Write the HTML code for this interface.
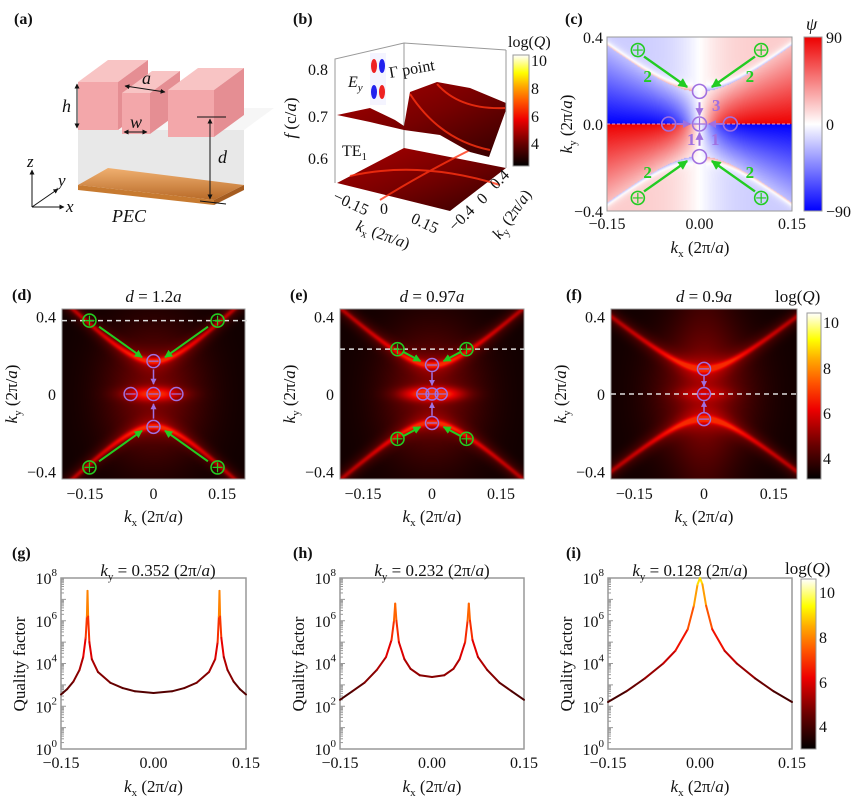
<!DOCTYPE html>
<html><head><meta charset="utf-8">
<style>
body{margin:0;width:865px;height:803px;background:#fff;position:relative;overflow:hidden;font-family:"Liberation Serif",serif}
canvas{position:absolute}
svg{position:absolute;left:0;top:0}
text{font-family:"Liberation Serif",serif;fill:#111}
.pl{font-weight:bold;font-size:16px}
.tk{font-size:16px}
.it{font-style:italic}
</style></head>
<body>
<canvas id="cc" width="185" height="174" style="left:607px;top:37px"></canvas>
<canvas id="cd" width="183" height="170" style="left:62px;top:309px"></canvas>
<canvas id="ce" width="184" height="170" style="left:340px;top:309px"></canvas>
<canvas id="cf" width="186" height="170" style="left:611px;top:309px"></canvas>
<svg id="s" width="865" height="803" xmlns="http://www.w3.org/2000/svg">
<defs>
<linearGradient id="hot" x1="0" y1="1" x2="0" y2="0">
<stop offset="0" stop-color="#000"/><stop offset="0.2" stop-color="#600"/><stop offset="0.42" stop-color="#e00"/><stop offset="0.58" stop-color="#f50"/><stop offset="0.72" stop-color="#fa0"/><stop offset="0.84" stop-color="#ff0"/><stop offset="1" stop-color="#fff"/>
</linearGradient>
<linearGradient id="rwb" x1="0" y1="0" x2="0" y2="1">
<stop offset="0" stop-color="#e00"/><stop offset="0.5" stop-color="#fff"/><stop offset="1" stop-color="#00f"/>
</linearGradient>
<linearGradient id="surf" x1="0" y1="0" x2="1" y2="1">
<stop offset="0" stop-color="#a00"/><stop offset="0.5" stop-color="#700"/><stop offset="1" stop-color="#300"/>
</linearGradient>
<linearGradient id="pec" x1="0" y1="0" x2="0" y2="1">
<stop offset="0" stop-color="#f0b070"/><stop offset="1" stop-color="#b86a28"/>
</linearGradient>
<marker id="ab" viewBox="0 0 10 10" refX="9" refY="5" markerWidth="5" markerHeight="5" orient="auto-start-reverse"><path d="M0,0L10,5L0,10z" fill="#111"/></marker>
<marker id="ag" viewBox="0 0 10 10" refX="9" refY="5" markerWidth="4" markerHeight="4" orient="auto"><path d="M0,0L10,5L0,10z" fill="#2c2"/></marker>
<marker id="ap" viewBox="0 0 10 10" refX="9" refY="5" markerWidth="4" markerHeight="4" orient="auto"><path d="M0,0L10,5L0,10z" fill="#a070e0"/></marker>
</defs>

<text class="pl" x="14" y="24">(a)</text>
<text class="pl" x="293" y="24">(b)</text>
<text class="pl" x="565" y="24">(c)</text>
<text class="pl" x="12" y="300">(d)</text>
<text class="pl" x="290" y="300">(e)</text>
<text class="pl" x="566" y="300">(f)</text>
<text class="pl" x="12" y="558">(g)</text>
<text class="pl" x="293" y="558">(h)</text>
<text class="pl" x="566" y="558">(i)</text>

<g>
<polygon points="78,130 244,130 244,185 78,185" fill="#e6e6e6" opacity="0.9"/>
<polygon points="78,130 108,108 274,108 244,130" fill="#eeeeee" opacity="0.5"/>
<polygon points="78,185 214,200 244,185 108,168" fill="url(#pec)"/>
<polygon points="78,185 214,200 214,205 78,190" fill="#c77a30"/>
<polygon points="214,200 244,185 244,190 214,205" fill="#a55c20"/>
<polygon points="78,82 118,82 148,60 108,60" fill="#f8c4c4"/>
<polygon points="78,82 118,82 118,130 78,130" fill="#f3a7aa"/>
<polygon points="118,82 148,60 148,108 118,130" fill="#e58e93"/>
<polygon points="122,93 150,93 180,71 152,71" fill="#f8c4c4"/>
<polygon points="122,93 150,93 150,134 122,134" fill="#f3a7aa"/>
<polygon points="150,93 180,71 180,112 150,134" fill="#e58e93"/>
<polygon points="168,90 214,90 244,68 198,68" fill="#f8c4c4"/>
<polygon points="168,90 214,90 214,137 168,137" fill="#f3a7aa"/>
<polygon points="214,90 244,68 244,115 214,137" fill="#e58e93"/>
<line x1="77" y1="84" x2="77" y2="128" stroke="#111" marker-start="url(#ab)" marker-end="url(#ab)"/>
<text x="62" y="112" class="it" font-size="18">h</text>
<line x1="125" y1="86" x2="165" y2="92" stroke="#111" marker-start="url(#ab)" marker-end="url(#ab)"/>
<text x="142" y="84" class="it" font-size="18">a</text>
<line x1="124" y1="132" x2="147" y2="132" stroke="#111" marker-start="url(#ab)" marker-end="url(#ab)"/>
<text x="130" y="128" class="it" font-size="18">w</text>
<line x1="197" y1="117" x2="226" y2="117" stroke="#111"/>
<line x1="210" y1="119" x2="210" y2="199" stroke="#111" marker-start="url(#ab)" marker-end="url(#ab)"/>
<line x1="200" y1="201" x2="226" y2="204" stroke="#111"/>
<text x="218" y="163" class="it" font-size="18">d</text>
<line x1="32" y1="207" x2="32" y2="170" stroke="#111" marker-end="url(#ab)"/>
<line x1="32" y1="207" x2="64" y2="207" stroke="#111" marker-end="url(#ab)"/>
<line x1="32" y1="207" x2="58" y2="189" stroke="#111" marker-end="url(#ab)"/>
<text x="27" y="167" class="it" font-size="17">z</text>
<text x="66" y="212" class="it" font-size="17">x</text>
<text x="58" y="186" class="it" font-size="17">y</text>
<text x="112" y="222" class="it" font-size="18">PEC</text>
</g>

<g>
<polyline points="335,183 335,59 404,43 506,50" fill="none" stroke="#999"/>
<line x1="404" y1="43" x2="404" y2="156" stroke="#999"/>
<polygon points="337,183 404,148 506,168 450,211" fill="url(#surf)"/>
<path d="M350,176 Q420,160 500,185 M380,200 Q420,175 470,150" stroke="#f31" stroke-width="2" fill="none" opacity="0.8"/>
<polygon points="337,115 370,108 395,120 404,126 410,92 437,82 470,88 506,103 506,110 489,157 470,152 440,135 404,130 370,122" fill="url(#surf)"/>
<path d="M410,94 Q440,140 490,150 M437,84 Q460,110 505,108" stroke="#f31" stroke-width="2" fill="none" opacity="0.8"/>
<line x1="506" y1="50" x2="506" y2="168" stroke="#999"/>
<rect x="370" y="53" width="16" height="52" fill="#f4f4ff"/>
<ellipse cx="374" cy="66" rx="3" ry="7" fill="#e22"/><ellipse cx="382" cy="66" rx="3" ry="7" fill="#22e"/>
<ellipse cx="374" cy="92" rx="3" ry="7" fill="#22e"/><ellipse cx="382" cy="92" rx="3" ry="7" fill="#e22"/>
<text x="348" y="87" class="it" font-size="16">E<tspan font-size="11" dy="4">y</tspan></text>
<text x="390" y="78" font-size="16" transform="rotate(-10 390 78)">Γ point</text>
<text x="342" y="156" font-size="16">TE<tspan font-size="11" dy="4">1</tspan></text>
<text x="328" y="75" class="tk" text-anchor="end">0.8</text>
<text x="328" y="122" class="tk" text-anchor="end">0.7</text>
<text x="328" y="164" class="tk" text-anchor="end">0.6</text>
<text x="296" y="118" font-size="17" text-anchor="middle" transform="rotate(-90 296 118)"><tspan class="it">f</tspan> (c/<tspan class="it">a</tspan>)</text>
<text x="332" y="200" class="tk" transform="rotate(25 332 200)">−0.15</text>
<text x="380" y="214" class="tk">0</text>
<text x="410" y="222" class="tk" transform="rotate(25 410 222)">0.15</text>
<text x="355" y="230" font-size="16" transform="rotate(20 355 230)"><tspan class="it">k</tspan><tspan font-size="11" dy="4">x</tspan><tspan dy="-4"> (2π/</tspan><tspan class="it">a</tspan>)</text>
<text x="455" y="232" class="tk" transform="rotate(-45 455 232)">−0.4</text>
<text x="483" y="205" class="tk" transform="rotate(-45 483 205)">0</text>
<text x="496" y="190" class="tk" transform="rotate(-45 496 190)">0.4</text>
<text x="500" y="240" font-size="16" transform="rotate(-55 500 240)"><tspan class="it">k</tspan><tspan font-size="11" dy="4">y</tspan><tspan dy="-4"> (2π/</tspan><tspan class="it">a</tspan>)</text>
<rect x="513" y="55" width="16" height="111" fill="url(#hot)" stroke="#999"/>
<text x="508" y="47" font-size="16">log(<tspan class="it">Q</tspan>)</text>
<text x="531" y="66" class="tk">10</text><text x="531" y="94" class="tk">8</text>
<text x="531" y="122" class="tk">6</text><text x="531" y="149" class="tk">4</text>
</g>

<g id="dyn"></g>
</svg>
<script>
const kxG=[-0.15,-0.14,-0.13,-0.12,-0.114,-0.11,-0.108,-0.107,-0.106,-0.104,-0.10,-0.09,-0.07,-0.05,-0.03,0,0.03,0.05,0.07,0.09,0.10,0.104,0.106,0.107,0.108,0.11,0.114,0.12,0.13,0.14,0.15];
const qG=[2.55,2.8,3.15,3.7,4.3,5.2,6.2,7.4,6.2,5.0,4.2,3.6,3.1,2.85,2.7,2.62,2.7,2.85,3.1,3.6,4.2,5.0,6.2,7.4,6.2,5.2,4.3,3.7,3.15,2.8,2.55];
const kxH=[-0.15,-0.13,-0.11,-0.09,-0.075,-0.066,-0.062,-0.060,-0.058,-0.054,-0.045,-0.035,-0.02,0,0.02,0.035,0.045,0.054,0.058,0.060,0.062,0.066,0.075,0.09,0.11,0.13,0.15];
const qH=[2.3,2.7,3.1,3.7,4.3,5.1,6.0,6.8,6.0,5.0,4.2,3.75,3.45,3.37,3.45,3.75,4.2,5.0,6.0,6.8,6.0,5.1,4.3,3.7,3.1,2.7,2.3];
const kxI=[-0.15,-0.12,-0.09,-0.06,-0.04,-0.02,-0.01,-0.004,0,0.004,0.01,0.02,0.04,0.06,0.09,0.12,0.15];
const qI=[2.2,2.7,3.3,4.0,4.6,5.6,6.7,7.7,8.3,7.7,6.7,5.6,4.6,4.0,3.3,2.7,2.2];
const yTicks=[0,2,4,6,8];
const xTicksLine=[-0.15,0,0.15];
const xTickLabelsLine=["−0.15","0.00","0.15"];
const hypVertex=[0.17,0.15,0.13];
const hypSlope=[2.3,2.1,1.9];
const centerGlow=[0.3,0.4,0.1];
const dashKy=[0.38,0.232,0];
const mapXTicks=[-0.15,0,0.15];
const mapXTickLabels=["−0.15","0","0.15"];
const mapYTicks=[0.4,0,-0.4];
const mapYTickLabels=["0.4","0","−0.4"];
const greenKx=[0.14,0.075,null];
const greenKy=[0.38,0.232,null];
const sideKx=[0.05,0.02,0];
const cXTicks=[-0.15,0,0.15];
const cXLabels=["−0.15","0.00","0.15"];
const cYTicks=[0.4,0,-0.4];
const cYLabels=["0.4","0.0","−0.4"];
const cVertex=0.15, cSlope=2.2;

const NS="http://www.w3.org/2000/svg";
const dyn=document.getElementById('dyn');
function mk(tag,attrs,parent){const e=document.createElementNS(NS,tag);for(const k in attrs)e.setAttribute(k,attrs[k]);(parent||dyn).appendChild(e);return e;}
function hot(t){t=Math.max(0,Math.min(1,t));
 const st=[[0,0,0,0],[0.2,102,0,0],[0.42,238,0,0],[0.58,255,85,0],[0.72,255,170,0],[0.84,255,255,0],[1,255,255,255]];
 for(let i=1;i<st.length;i++){if(t<=st[i][0]){const a=st[i-1],b=st[i],f=(t-a[0])/(b[0]-a[0]);return [a[1]+f*(b[1]-a[1]),a[2]+f*(b[2]-a[2]),a[3]+f*(b[3]-a[3])];}}
 return [255,255,255];}
function hotCss(t){const c=hot(t);return `rgb(${c[0]|0},${c[1]|0},${c[2]|0})`;}
function qColor(v){return hotCss(0.12+(v-2.3)/8*0.95);}

const linePanels=[
 {x0:61,x1:246,kx:kxG,q:qG,title:"0.352",tx:158,name:"g"},
 {x0:340,x1:524,kx:kxH,q:qH,title:"0.232",tx:432,name:"h"},
 {x0:608,x1:792,kx:kxI,q:qI,title:"0.128",tx:690,name:"i"}];
const LY0=578,LY1=749;
linePanels.forEach(p=>{
 const xs=k=>p.x0+(k+0.15)/0.3*(p.x1-p.x0);
 const ys=v=>LY1-v/8*(LY1-LY0);
 const fr=mk('rect',{x:p.x0,y:LY0,width:p.x1-p.x0,height:LY1-LY0,fill:'none',stroke:'#999','stroke-width':1.5});
 
 
 for(let d=0;d<8;d++)for(let m=1;m<10;m++){const v=d+Math.log10(m);const tk=mk('line',{x1:p.x0,x2:p.x0+(m===1?5:3),y1:ys(v),y2:ys(v),stroke:'#999'});
  
  }
 yTicks.forEach(v=>{const t=mk('text',{x:p.x0-4,y:ys(v)+6,'text-anchor':'end',class:'tk'});t.innerHTML='10<tspan font-size="11" dy="-8">'+v+'</tspan>';
  
  });
 xTicksLine.forEach((v,i)=>{const t=mk('text',{x:xs(v),y:768,'text-anchor':'middle',class:'tk'});t.textContent=xTickLabelsLine[i];
  
  });
 const yl=mk('text',{x:p.x0-36,y:664,'text-anchor':'middle','font-size':17,transform:`rotate(-90 ${p.x0-36} 664)`});yl.textContent='Quality factor';
 
 
 const xl=mk('text',{x:(p.x0+p.x1)/2,y:792,'text-anchor':'middle','font-size':17});xl.innerHTML='<tspan class="it">k</tspan><tspan font-size="11" dy="4">x</tspan><tspan dy="-4"> (2π/</tspan><tspan class="it">a</tspan>)';
 
 
 const ti=mk('text',{x:p.tx,y:576,'text-anchor':'middle','font-size':17});ti.innerHTML='<tspan class="it">k</tspan><tspan font-size="11" dy="4">y</tspan><tspan dy="-4"> = '+p.title+' (2π/</tspan><tspan class="it">a</tspan>)';
 
 
 for(let i=0;i<p.kx.length-1;i++){
  const v=(p.q[i]+p.q[i+1])/2;
  const seg=mk('line',{x1:xs(p.kx[i]),y1:ys(Math.min(p.q[i],8)),x2:xs(p.kx[i+1]),y2:ys(Math.min(p.q[i+1],8)),stroke:qColor(v),'stroke-width':2,'stroke-linecap':'round'});
  
  
 }
});
const cbi=mk('rect',{x:801,y:579,width:15,height:170,fill:'url(#hot)',stroke:'#999'});


[[10,592],[8,637],[6,682],[4,726]].forEach(a=>{const t=mk('text',{x:819,y:a[1]+6,class:'tk'});t.textContent=a[0];
 
 });
const lqi=mk('text',{x:785,y:574,'font-size':17});lqi.innerHTML='log(<tspan class="it">Q</tspan>)';



const mapPanels=[{id:'cd',x0:62,x1:245,name:'d',title:'1.2'},{id:'ce',x0:340,x1:524,name:'e',title:'0.97'},{id:'cf',x0:611,x1:797,name:'f',title:'0.9'}];
const MY0=309,MY1=479,KXR=0.2,KYR=0.44;
mapPanels.forEach((p,pi)=>{
 const cv=document.getElementById(p.id),ctx=cv.getContext('2d');const W=cv.width,H=cv.height;
 const img=ctx.createImageData(W,H);
 for(let j=0;j<H;j++)for(let i=0;i<W;i++){
  const kx=-KXR+2*KXR*i/(W-1), ky=KYR-2*KYR*j/(H-1);
  const hy=Math.sqrt(hypVertex[pi]**2+hypSlope[pi]**2*kx*kx);
  const dd=Math.abs(Math.abs(ky)-hy);
  let t=0.03+0.2*Math.exp(-(kx*kx)/0.012-(ky*ky)/0.12);
  t+=0.26*Math.exp(-(dd*dd)/0.0003)*(1-0.25*Math.abs(kx)/KXR);
  t+=0.1*Math.exp(-(dd*dd)/0.003);
  t+=centerGlow[pi]*Math.exp(-(ky*ky)/0.0012-(kx*kx)/0.004);
  if(pi===2) t+=0.06*Math.exp(-(kx*kx)/0.004);
  const c=hot(Math.min(t,0.5));const o=4*(j*W+i);
  img.data[o]=c[0];img.data[o+1]=c[1];img.data[o+2]=c[2];img.data[o+3]=255;}
 ctx.putImageData(img,0,0);
 const xs=k=>p.x0+(k+KXR)/(2*KXR)*(p.x1-p.x0);
 const ys=k=>(MY0+MY1)/2-k/KYR*(MY1-MY0)/2;
 const fr=mk('rect',{x:p.x0,y:MY0,width:p.x1-p.x0,height:MY1-MY0,fill:'none',stroke:'#999'});
 
 
 mapXTicks.forEach((v,i)=>{const t=mk('text',{x:xs(v),y:499,'text-anchor':'middle',class:'tk'});t.textContent=mapXTickLabels[i];
  
  });
 mapYTicks.forEach((v,i)=>{const t=mk('text',{x:p.x0-6,y:ys(v)+6,'text-anchor':'end',class:'tk'});t.textContent=mapYTickLabels[i];
  
  });
 const xl=mk('text',{x:(p.x0+p.x1)/2,y:522,'text-anchor':'middle','font-size':17});xl.innerHTML='<tspan class="it">k</tspan><tspan font-size="11" dy="4">x</tspan><tspan dy="-4"> (2π/</tspan><tspan class="it">a</tspan>)';
 
 
 const yx=p.x0-45;
 const yl=mk('text',{x:yx,y:394,'text-anchor':'middle','font-size':17,transform:`rotate(-90 ${yx} 394)`});yl.innerHTML='<tspan class="it">k</tspan><tspan font-size="11" dy="4">y</tspan><tspan dy="-4"> (2π/</tspan><tspan class="it">a</tspan>)';
 
 
 const ti=mk('text',{x:(p.x0+p.x1)/2,y:302,'text-anchor':'middle','font-size':17});ti.innerHTML='<tspan class="it">d</tspan> = '+p.title+'<tspan class="it">a</tspan>';
 
 
 const dl=mk('line',{x1:p.x0,x2:p.x1+(pi===0?6:0),y1:ys(dashKy[pi]),y2:ys(dashKy[pi]),stroke:'#ddd','stroke-width':1.5,'stroke-dasharray':'5,4'});
 
 
 const pc='#a070e0';
 const vy=hypVertex[pi];
 [[0,vy],[0,-vy],[0,0],[-sideKx[pi],0],[sideKx[pi],0]].forEach((q,qi)=>{
  if(pi===2&&qi>2)return;
  const c=mk('circle',{cx:xs(q[0]),cy:ys(q[1]),r:pi===1&&qi!==0&&qi!==1?6:6.5,fill:'none',stroke:pc,'stroke-width':1.5});
  
  
  const h=mk('line',{x1:xs(q[0])-5,x2:xs(q[0])+5,y1:ys(q[1]),y2:ys(q[1]),stroke:pc,'stroke-width':1.2});
  
  });
 [[vy*0.75,vy*0.3],[-vy*0.75,-vy*0.3]].forEach(a=>{const l=mk('line',{x1:xs(0),x2:xs(0),y1:ys(a[0]),y2:ys(a[1]),stroke:pc,'stroke-width':1.5,'marker-end':'url(#ap)'});
  
  });
 if(greenKx[pi]!==null){
  const gx=greenKx[pi],gy=greenKy[pi];
  [[1,1],[-1,1],[1,-1],[-1,-1]].forEach(s=>{
   const c=mk('circle',{cx:xs(s[0]*gx),cy:ys(s[1]*gy),r:6.5,fill:'none',stroke:'#2c2','stroke-width':1.6});
   
   
   const l=mk('path',{d:`M${xs(s[0]*gx)-5},${ys(s[1]*gy)}h10M${xs(s[0]*gx)},${ys(s[1]*gy)-5}v10`,stroke:'#2c2','stroke-width':1.2});
   
   
   const a=mk('line',{x1:xs(s[0]*gx*0.85),y1:ys(s[1]*(gy-(gy-vy)*0.15)),x2:xs(s[0]*0.025),y2:ys(s[1]*(vy+0.02)),stroke:'#2c2','stroke-width':2,'marker-end':'url(#ag)'});
   
   });
 }
});
const cbf=mk('rect',{x:807,y:313,width:14,height:166,fill:'url(#hot)',stroke:'#999'});


[[10,322],[8,368],[6,413],[4,458]].forEach(a=>{const t=mk('text',{x:823,y:a[1]+6,class:'tk'});t.textContent=a[0];
 
 });
const lqf=mk('text',{x:775,y:302,'font-size':17});lqf.innerHTML='log(<tspan class="it">Q</tspan>)';



(function(){
 const X0=607,X1=792,Y0=37,Y1=211;
 const cv=document.getElementById('cc'),ctx=cv.getContext('2d');const W=cv.width,H=cv.height;const img=ctx.createImageData(W,H);
 for(let j=0;j<H;j++)for(let i=0;i<W;i++){
  const kx=-0.15+0.3*i/(W-1),ky=0.4-0.8*j/(H-1);
  const hy=Math.sqrt(cVertex*cVertex+cSlope*cSlope*kx*kx);
  const sg=ky>=0?1:-1;let v;
  if(Math.abs(ky)<hy){v=-Math.tanh(kx/0.035)*(0.25+0.75*(1-Math.abs(ky)/hy))*sg;}
  else{v=-Math.tanh(kx/0.05)*0.2*sg; const dd=Math.abs(ky)-hy; v+= Math.sign(kx)*sg*0.45*Math.exp(-dd/0.015)*(Math.abs(kx)>0.01?1:0);}
  v=Math.max(-1,Math.min(1,-v));
  let r,g,b; if(v>=0){r=255-17*v;g=255*(1-v);b=255*(1-v);}else{r=255*(1+v);g=255*(1+v);b=255;}
  const o=4*(j*W+i);img.data[o]=r;img.data[o+1]=g;img.data[o+2]=b;img.data[o+3]=255;}
 ctx.putImageData(img,0,0);
 const xs=k=>X0+(k+0.15)/0.3*(X1-X0), ys=k=>(Y0+Y1)/2-k/0.4*(Y1-Y0)/2;
 const fr=mk('rect',{x:X0,y:Y0,width:X1-X0,height:Y1-Y0,fill:'none',stroke:'#999'});
 
 
 cXTicks.forEach((v,i)=>{const t=mk('text',{x:xs(v),y:229,'text-anchor':'middle',class:'tk'});t.textContent=cXLabels[i];
  
  });
 cYTicks.forEach((v,i)=>{const t=mk('text',{x:X0-4,y:ys(v)+6,'text-anchor':'end',class:'tk'});t.textContent=cYLabels[i];
  
  });
 const xl=mk('text',{x:700,y:253,'text-anchor':'middle','font-size':17});xl.innerHTML='<tspan class="it">k</tspan><tspan font-size="11" dy="4">x</tspan><tspan dy="-4"> (2π/</tspan><tspan class="it">a</tspan>)';
 
 
 const yl=mk('text',{x:572,y:124,'text-anchor':'middle','font-size':17,transform:'rotate(-90 572 124)'});yl.innerHTML='<tspan class="it">k</tspan><tspan font-size="11" dy="4">y</tspan><tspan dy="-4"> (2π/</tspan><tspan class="it">a</tspan>)';
 
 
 const dl=mk('line',{x1:X0,x2:X1,y1:ys(0),y2:ys(0),stroke:'#e8a0c0','stroke-width':1,'stroke-dasharray':'3,2'});
 
 
 const pc='#a070e0';
 [[0,cVertex],[0,-cVertex],[-0.05,0],[0.05,0],[0,0]].forEach((q,qi)=>{
  const c=mk('circle',{cx:xs(q[0]),cy:ys(q[1]),r:7,fill:'none',stroke:pc,'stroke-width':1.6});
  
  
  if(qi===4){const l=mk('path',{d:`M${xs(0)-6},${ys(0)}h12M${xs(0)},${ys(0)-6}v12`,stroke:pc,'stroke-width':1.3});
   
   }});
 [[[0,0.1],[0,0.04]],[[0,-0.1],[0,-0.04]],[[-0.037,0],[-0.015,0]],[[0.037,0],[0.015,0]]].forEach(a=>{
  const l=mk('line',{x1:xs(a[0][0]),y1:ys(a[0][1]),x2:xs(a[1][0]),y2:ys(a[1][1]),stroke:pc,'stroke-width':2,'marker-end':'url(#ap)'});
  
  });
 [['3',712,111],['1',687,145],['1',711,145]].forEach(a=>{const t=mk('text',{x:a[1],y:a[2],'font-size':17,'font-weight':'bold',fill:pc});t.style.fill=pc;t.textContent=a[0];
  
  });
 [[1,1],[-1,1],[1,-1],[-1,-1]].forEach(s=>{
  const gx=0.1,gy=0.34;
  const c=mk('circle',{cx:xs(s[0]*gx),cy:ys(s[1]*gy),r:6.5,fill:'none',stroke:'#2c2','stroke-width':1.6});
  
  
  const l=mk('path',{d:`M${xs(s[0]*gx)-5},${ys(s[1]*gy)}h10M${xs(s[0]*gx)},${ys(s[1]*gy)-5}v10`,stroke:'#2c2','stroke-width':1.2});
  
  
  const a=mk('line',{x1:xs(s[0]*0.09),y1:ys(s[1]*0.31),x2:xs(s[0]*0.02),y2:ys(s[1]*0.17),stroke:'#2c2','stroke-width':2.4,'marker-end':'url(#ag)'});
  
  
  const t=mk('text',{x:xs(s[0]*0.083)-5,y:ys(s[1]*0.22)+6,'font-size':17,'font-weight':'bold'});t.style.fill='#2c2';t.textContent='2';
  
  });
 const cb=mk('rect',{x:804,y:37,width:18,height:174,fill:'url(#rwb)',stroke:'#999'});
 
 
 [['90',43],['0',130],['−90',217]].forEach(a=>{const t=mk('text',{x:826,y:a[1],class:'tk'});t.textContent=a[0];
  
  });
 const ps=mk('text',{x:806,y:30,'font-size':18,class:'it'});ps.textContent='ψ';
 
 
})();
</script>
</body></html>
